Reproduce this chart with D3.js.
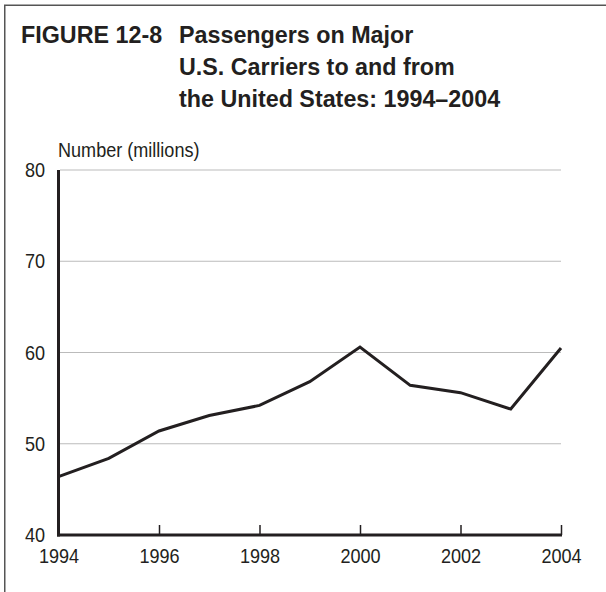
<!DOCTYPE html>
<html>
<head>
<meta charset="utf-8">
<script src="https://cdn.jsdelivr.net/npm/d3@7"></script>
<style>
  html, body { margin: 0; padding: 0; background: #fff; }
  svg { display: block; }
  .narrow { font-family: "Liberation Sans", Arial, sans-serif; fill: #231f20; }
  .title { font-family: "Liberation Sans", Arial, sans-serif; font-weight: bold; fill: #231f20; }
</style>
</head>
<body>
<svg id="chart" width="606" height="592"></svg>
<script>
// Passengers on major U.S. carriers to and from the United States, millions
const years = [1994, 1995, 1996, 1997, 1998, 1999, 2000, 2001, 2002, 2003, 2004];
const passengers = [46.4, 48.4, 51.4, 53.1, 54.2, 56.8, 60.6, 56.4, 55.6, 53.8, 60.5];
const xTicks = [1994, 1996, 1998, 2000, 2002, 2004];
const yTicks = [40, 50, 60, 70, 80];
const titleLabel = "FIGURE 12-8";
const titleLines = ["Passengers on Major", "U.S. Carriers to and from", "the United States: 1994\u20132004"];
const unitLabel = "Number (millions)";

const svg = d3.select("#chart");
const ink = "#231f20";

svg.append("rect").attr("width", 606).attr("height", 592).attr("fill", "#fff");

// frame (top and left edges)
svg.append("path")
  .attr("d", "M4.75,592V5.25H606")
  .attr("fill", "none").attr("stroke", "#555").attr("stroke-width", 1.5);

// title
const title = svg.append("text").attr("class", "title").attr("font-size", 23.3);
title.append("tspan").attr("x", 21).attr("y", 42.5).text(titleLabel);
titleLines.forEach((t, i) => {
  title.append("tspan").attr("x", 179).attr("y", 42.5 + i * 32.3).text(t);
});

const x = d3.scaleLinear().domain([1994, 2004]).range([58.5, 561]);
const y = d3.scaleLinear().domain([40, 80]).range([535, 170]);

// dotted gridlines
svg.append("g")
  .selectAll("line")
  .data(yTicks.filter(v => v > 40))
  .join("line")
  .attr("x1", x(1994) + 2).attr("x2", x(2004))
  .attr("y1", d => y(d)).attr("y2", d => y(d))
  .attr("stroke", "#777").attr("stroke-width", 1)
  .attr("stroke-dasharray", "1,1");

// y axis labels
const yAxis = svg.append("g")
  .attr("transform", `translate(${x(1994)},0)`)
  .call(d3.axisLeft(y).tickValues(yTicks).tickSize(0).tickPadding(13.5).tickFormat(d3.format("d")));
yAxis.select(".domain").remove();
yAxis.selectAll("text").attr("class", "narrow").attr("font-size", 21).attr("fill", ink);

// y axis line
svg.append("line")
  .attr("x1", x(1994)).attr("x2", x(1994))
  .attr("y1", y(80)).attr("y2", y(40) + 1.5)
  .attr("stroke", ink).attr("stroke-width", 3);

// x axis
const xAxis = svg.append("g")
  .attr("transform", `translate(0,${y(40)})`)
  .call(d3.axisBottom(x).tickValues(xTicks).tickSize(-10).tickFormat(d3.format("d")));
xAxis.select(".domain")
  .attr("d", `M${x(1994) - 1.5},0H${x(2004) + 1}`)
  .attr("stroke", ink).attr("stroke-width", 3);
xAxis.selectAll(".tick line").attr("stroke", ink).attr("stroke-width", 1.5);
xAxis.selectAll("text")
  .attr("class", "narrow").attr("font-size", 21).attr("fill", ink)
  .attr("y", 28.3).attr("dy", 0);

// axis unit label
svg.append("text")
  .attr("class", "narrow")
  .attr("x", 58).attr("y", 156.5)
  .attr("font-size", 21)
  .text(unitLabel);

// condensed look for axis text
svg.selectAll("text.narrow").each(function () {
  const w = this.getComputedTextLength();
  d3.select(this).attr("textLength", w * 0.86).attr("lengthAdjust", "spacingAndGlyphs");
});

// data line
const line = d3.line().x((d, i) => x(years[i])).y(d => y(d));
svg.append("path")
  .datum(passengers)
  .attr("d", line)
  .attr("fill", "none")
  .attr("stroke", ink)
  .attr("stroke-width", 3)
  .attr("stroke-linejoin", "miter");
</script>
</body>
</html>
